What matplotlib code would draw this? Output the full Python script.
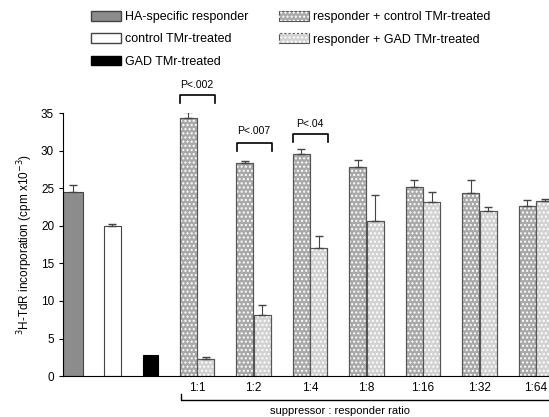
import matplotlib
matplotlib.use('Agg')
import matplotlib.pyplot as plt
from matplotlib.patches import Patch
import numpy as np

plt.rcParams['font.family'] = ['Liberation Sans', 'DejaVu Sans']

# single control bars
single_labels = ['HA-specific responder', 'control TMr-treated', 'GAD TMr-treated']
single_vals = [24.5, 20.0, 2.8]
single_err = [0.9, 0.3, 0.0]

# suppressor : responder ratios
ratios = ['1:1', '1:2', '1:4', '1:8', '1:16', '1:32', '1:64']
ctrl_vals = [34.4, 28.4, 29.5, 27.8, 25.1, 24.3, 22.6]
ctrl_err = [0.7, 0.2, 0.7, 1.0, 1.0, 1.8, 0.8]
gad_vals = [2.3, 8.1, 17.0, 20.6, 23.1, 22.0, 23.3]
gad_err = [0.3, 1.3, 1.6, 3.5, 1.4, 0.5, 0.3]

p_labels = ['P<.002', 'P<.007', 'P<.04']

fig = plt.figure(figsize=(5.49, 4.17), dpi=100)
ax = fig.add_axes([0.115, 0.098, 0.885, 0.631])

grey_edge = '#555555'
c_ha = '#8c8c8c'
c_ctrl = '#a9a9a9'
c_gad = '#d2d2d2'

# single bars
sx = [-2.2, -1.5, -0.83]
sw = [0.35, 0.3, 0.27]
scol = [c_ha, 'white', 'black']
for x, v, e, w, c in zip(sx, single_vals, single_err, sw, scol):
    ax.bar(x, v, width=w, color=c, edgecolor='#444444' if c != 'black' else 'black', linewidth=0.8)
    if e > 0:
        ax.errorbar(x, v, yerr=[[0], [e]], fmt='none', ecolor='#444444', capsize=3, lw=0.8)

# grouped bars
gx = np.arange(len(ratios))
bw = 0.3
for off, vals, errs, c in [(-0.155, ctrl_vals, ctrl_err, c_ctrl), (0.155, gad_vals, gad_err, c_gad)]:
    ax.bar(gx + off, vals, width=bw, color=c, edgecolor=grey_edge, linewidth=0.8)
    ax.bar(gx + off, vals, width=bw, color='none', edgecolor='white', hatch='....', linewidth=0)
    ax.bar(gx + off, vals, width=bw, color='none', edgecolor=grey_edge, linewidth=0.8)
    ax.errorbar(gx + off, vals, yerr=[np.zeros(len(vals)), errs], fmt='none',
                ecolor='#444444', capsize=3, lw=0.8)

# significance brackets
brackets = [(0, 37.4, 38.7), (1, 31.0, 32.6), (2, 32.2, 33.6)]
for (g, yb, yt), lab in zip(brackets, p_labels):
    x0, x1 = g - 0.3, g + 0.32
    ax.plot([x0, x0, x1, x1], [yb - 1.1, yb, yb, yb - 1.1], color='black', lw=1.2, clip_on=False)
    ax.text(g, yt, lab, ha='center', va='center', fontsize=7.5, clip_on=False)

ax.set_xlim(-2.37, 6.23)
ax.set_ylim(0, 35)
ax.set_yticks(range(0, 36, 5))
ax.set_xticks(gx)
ax.set_xticklabels(ratios, fontsize=8.5)
ax.tick_params(axis='x', length=0, pad=4)
ax.tick_params(axis='y', labelsize=8.5, length=3, direction='out')
ax.spines['top'].set_visible(False)
ax.spines['right'].set_visible(False)
ax.set_ylabel(r'$^3$H-TdR incorporation (cpm x10$^{-3}$)', fontsize=8.5, labelpad=4)

# ratio bracket under the axis
ax.plot([-0.28, -0.28, 6.4], [-2.4, -3.2, -3.2], color='black', lw=1.0, clip_on=False)
ax.text(2.53, -4.7, 'suppressor : responder ratio', ha='center', va='center', fontsize=8)

# legend
def hatched(c):
    return (Patch(facecolor=c, edgecolor=grey_edge, lw=0.8),
            Patch(facecolor='none', edgecolor='white', hatch='....', lw=0))

handles = [Patch(facecolor=c_ha, edgecolor='#444444'),
           Patch(facecolor='white', edgecolor='#444444'),
           Patch(facecolor='black', edgecolor='black'),
           hatched(c_ctrl), hatched(c_gad)]
labels = single_labels + ['responder + control TMr-treated', 'responder + GAD TMr-treated']
fig.legend(handles, labels, ncol=2, loc='upper left', bbox_to_anchor=(0.145, 1.0),
           frameon=False, fontsize=9, handlelength=2.4, handleheight=0.8,
           handletextpad=0.3, columnspacing=2.5, labelspacing=0.8)

fig.savefig('out.png', dpi=100)
